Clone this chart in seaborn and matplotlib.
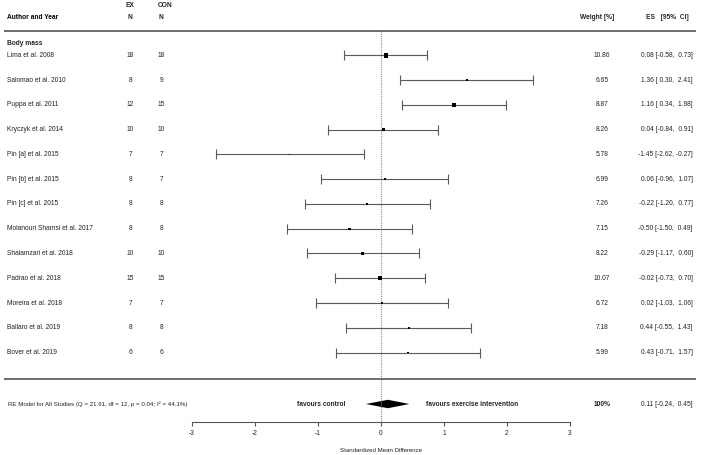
import numpy as np
import pandas as pd
import matplotlib
matplotlib.use('Agg')
import matplotlib.pyplot as plt
import seaborn as sns

# studies (body mass)
studies = ['Lima et al. 2008', 'Salomao et al. 2010', 'Puppa et al. 2011', 'Kryczyk et al. 2014',
           'Pin [a] et al. 2015', 'Pin [b] et al. 2015', 'Pin [c] et al. 2015',
           'Molanouri Shamsi et al. 2017', 'Shalamzari et al. 2018', 'Padrao et al. 2018',
           'Moreira et al. 2018', 'Ballaro et al. 2019', 'Bover et al. 2019']
n_ex = [18, 8, 12, 10, 7, 8, 8, 8, 10, 15, 7, 8, 6]
n_con = [18, 9, 15, 10, 7, 7, 8, 8, 10, 15, 7, 8, 6]
es = [0.08, 1.36, 1.16, 0.04, -1.45, 0.06, -0.22, -0.50, -0.29, -0.02, 0.02, 0.44, 0.43]
ci_lo = [-0.58, 0.30, 0.34, -0.84, -2.62, -0.96, -1.20, -1.50, -1.17, -0.73, -1.03, -0.55, -0.71]
ci_hi = [0.73, 2.41, 1.98, 0.91, -0.27, 1.07, 0.77, 0.49, 0.60, 0.70, 1.06, 1.43, 1.57]
weights = [10.86, 6.65, 8.87, 8.26, 5.78, 6.99, 7.26, 7.15, 8.22, 10.07, 6.72, 7.18, 5.99]

# pooled RE model
re_es, re_lo, re_hi = 0.11, -0.24, 0.45
re_label = 'RE Model for All Studies (Q = 21.91, df = 12, p = 0.04; I\u00b2 = 44.1%)'
ticks = [-3, -2, -1, 0, 1, 2, 3]

df = pd.DataFrame({'study': studies, 'es': es, 'lo': ci_lo, 'hi': ci_hi, 'w': weights,
                   'n_ex': n_ex, 'n_con': n_con})
df['row'] = np.arange(len(df))

# square side grows linearly with weight (like metafor), area for scatter
wmin, wmax = df['w'].min(), df['w'].max()
side = 0.8 + (df['w'] - wmin) / (wmax - wmin) * 2.6
size_map = {w: s ** 2 for w, s in zip(df['w'], side)}

sns.set_style('white')
plt.rcParams['font.family'] = ['Liberation Sans', 'DejaVu Sans']

fig = plt.figure(figsize=(7.01, 4.55), dpi=100)
ax = fig.add_axes([0, 0, 1, 1])
ax.set_xlim(-381 / 63, 320 / 63)
ax.set_ylim(16.14, -2.24)

fs = 4.8
txt = '#222222'
line_c = '#555555'

# confidence intervals
ax.errorbar(df['es'], df['row'], xerr=[df['es'] - df['lo'], df['hi'] - df['es']],
            fmt='none', ecolor='#5a5a5a', elinewidth=0.8, capsize=3.5, capthick=0.8)
# study squares sized by weight
sns.scatterplot(data=df, x='es', y='row', size='w', sizes=size_map, marker='s',
                color='black', linewidth=0, legend=False, ax=ax, zorder=3)

# pooled diamond
r_re = 14.08
ax.fill([re_lo, re_es, re_hi, re_es], [r_re, r_re - 0.17, r_re, r_re + 0.17], color='black', lw=0)

# reference line
ax.vlines(0, -0.99, 14.75, colors='#8a8a8a', linestyles=(0, (1, 1)), lw=0.8)

# separators
ax.hlines([-0.99, 13.07], -5.99, 5.0, colors=line_c, lw=1.2)

# headers
ax.text(-5.94, -1.52, 'Author and Year', fontsize=fs, fontweight='bold', va='center', color='black')
ax.text(-3.98, -2.0, 'EX', fontsize=fs, fontweight='bold', va='center', ha='center')
ax.text(-3.98, -1.52, 'N', fontsize=fs, fontweight='bold', va='center', ha='center')
ax.text(-3.43, -2.0, 'CON', fontsize=fs, fontweight='bold', va='center', ha='center')
ax.text(-3.49, -1.52, 'N', fontsize=fs, fontweight='bold', va='center', ha='center')
ax.text(3.43, -1.52, 'Weight [%]', fontsize=fs, fontweight='bold', va='center', ha='center')
ax.text(4.54, -1.52, 'ES   [95%  CI]', fontsize=fs, fontweight='bold', va='center', ha='center')
ax.text(-5.94, -0.5, 'Body mass', fontsize=fs, fontweight='bold', va='center')

# study rows
for _, r in df.iterrows():
    ax.text(-5.94, r['row'], r['study'], fontsize=fs, va='center', color=txt)
    ax.text(-3.98, r['row'], str(r['n_ex']), fontsize=fs, va='center', ha='center', color=txt)
    ax.text(-3.49, r['row'], str(r['n_con']), fontsize=fs, va='center', ha='center', color=txt)
    ax.text(3.51, r['row'], f"{r['w']:.2f}", fontsize=fs, va='center', ha='center', color=txt)
    ax.text(4.95, r['row'], f"{r['es']:.2f} [{r['lo']:5.2f}, {r['hi']:5.2f}]",
            fontsize=fs, va='center', ha='right', color=txt)

# RE model row
ax.text(-5.92, r_re, re_label, fontsize=fs * 0.92, va='center', color=txt)
ax.text(-0.56, r_re, 'favours control', fontsize=fs, fontweight='bold', va='center', ha='right')
ax.text(0.71, r_re, 'favours exercise intervention', fontsize=fs, fontweight='bold', va='center')
ax.text(3.51, r_re, '100%', fontsize=fs, fontweight='bold', va='center', ha='center')
ax.text(4.95, r_re, f"{re_es:.2f} [{re_lo:5.2f}, {re_hi:5.2f}]", fontsize=fs, va='center', ha='right', color=txt)

# x axis
for s in ['top', 'left', 'right']:
    ax.spines[s].set_visible(False)
ax.spines['bottom'].set_position(('data', 14.81))
ax.spines['bottom'].set_bounds(-3, 3)
ax.spines['bottom'].set_color(line_c)
ax.spines['bottom'].set_linewidth(0.8)
ax.set_xticks(ticks)
ax.set_xticklabels([str(t) for t in ticks])
ax.tick_params(axis='x', direction='out', length=3, width=0.8, color=line_c, pad=3,
               labelsize=fs, labelcolor=txt, bottom=True)
ax.set_yticks([])
ax.set_xlabel('')
ax.set_ylabel('')
ax.text(0, 15.96, 'Standardized Mean Difference', fontsize=fs * 0.92, ha='center', va='center', color=txt)

fig.savefig('out.png', dpi=100)
